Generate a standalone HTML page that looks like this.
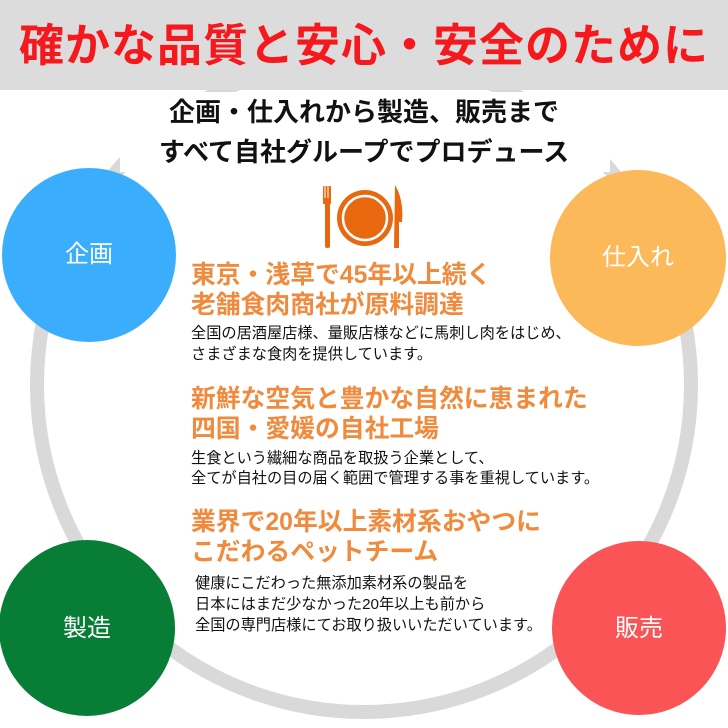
<!DOCTYPE html>
<html><head><meta charset="utf-8"><style>
html,body{margin:0;padding:0;background:#fff;}
#c{position:relative;width:728px;height:728px;overflow:hidden;font-family:"Liberation Sans","Noto Sans CJK JP",sans-serif;}
.t{position:absolute;white-space:nowrap;line-height:1;}
.h{color:#f08a3c;font-size:24.8px;font-weight:bold;left:191px;}
.b{color:#111;font-size:15.2px;left:191px;}
.lab{color:#fff;font-size:24px;text-align:center;width:176px;}
</style></head><body><div id="c">
<svg width="728" height="728" style="position:absolute;left:0;top:0">
<circle cx="364" cy="385" r="327" fill="none" stroke="#d9d9d9" stroke-width="14"/>
<rect x="0" y="0" width="728" height="90" fill="#dcdcdc"/>
<rect x="120" y="92" width="490" height="80" fill="#fff"/>
<circle cx="89" cy="255" r="87" fill="#3aaefc"/>
<circle cx="638" cy="258" r="88" fill="#fbb95a"/>
<circle cx="87" cy="628" r="88" fill="#087d35"/>
<circle cx="639" cy="628" r="87" fill="#fb5456"/>
<g fill="#e8680f">
<circle cx="365" cy="218" r="28"/>
<rect x="323" y="186" width="8" height="18" rx="1"/>
<rect x="325" y="200" width="5" height="48" rx="2"/>
<path d="M395 185 Q404 200 402 222 L399 222 L399 248 L394 248 Z"/>
</g>
<circle cx="365" cy="218" r="22" fill="none" stroke="#fff" stroke-width="2.5"/>
<line x1="325" y1="186" x2="325" y2="198" stroke="#fff" stroke-width="1"/>
<line x1="328" y1="186" x2="328" y2="198" stroke="#fff" stroke-width="1"/>
</svg>
<div class="t" style="left:0;width:728px;text-align:center;top:23px;font-size:45px;font-weight:bold;color:#f5191e;letter-spacing:1px">確かな品質と安心・安全のために</div>
<div class="t" style="left:0;width:728px;text-align:center;top:99px;font-size:26px;font-weight:bold;color:#111">企画・仕入れから製造、販売まで</div>
<div class="t" style="left:0;width:728px;text-align:center;top:139px;font-size:26px;font-weight:bold;color:#111">すべて自社グループでプロデュース</div>
<div class="t lab" style="left:1px;top:243px">企画</div>
<div class="t lab" style="left:550px;top:246px">仕入れ</div>
<div class="t lab" style="left:-1px;top:617px">製造</div>
<div class="t lab" style="left:551px;top:617px">販売</div>
<div class="t h" style="top:264px">東京・浅草で45年以上続く</div>
<div class="t h" style="top:294px">老舗食肉商社が原料調達</div>
<div class="t b" style="top:326px">全国の居酒屋店様、量販店様などに馬刺し肉をはじめ、</div>
<div class="t b" style="top:347px">さまざまな食肉を提供しています。</div>
<div class="t h" style="top:388px">新鮮な空気と豊かな自然に恵まれた</div>
<div class="t h" style="top:418px">四国・愛媛の自社工場</div>
<div class="t b" style="top:451px">生食という繊細な商品を取扱う企業として、</div>
<div class="t b" style="top:471px">全てが自社の目の届く範囲で管理する事を重視しています。</div>
<div class="t h" style="top:511px">業界で20年以上素材系おやつに</div>
<div class="t h" style="top:541px">こだわるペットチーム</div>
<div class="t b" style="left:195px;top:576px">健康にこだわった無添加素材系の製品を</div>
<div class="t b" style="left:195px;top:597px">日本にはまだ少なかった20年以上も前から</div>
<div class="t b" style="left:195px;top:618px">全国の専門店様にてお取り扱いいただいています。</div>
</div></body></html>
